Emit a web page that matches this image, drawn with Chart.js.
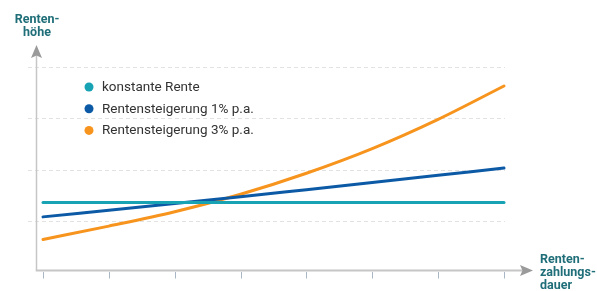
<!DOCTYPE html>
<html>
<head>
<meta charset="utf-8">
<script src="https://cdn.jsdelivr.net/npm/chart.js@4"></script>
<style>
  html, body { margin: 0; padding: 0; background: #fff; }
  #wrap { width: 597px; height: 291px; }
</style>
</head>
<body>
<div id="wrap"><canvas id="rentenChart" width="597" height="291"></canvas></div>
<script>
// years of payout (unlabelled ticks on the x axis)
const periods = ["", "", "", "", "", "", "", ""];
const konstant = [1.36, 1.36, 1.36, 1.36, 1.36, 1.36, 1.36, 1.36];
const steigung1 = [1.08, 1.21, 1.34, 1.47, 1.61, 1.75, 1.89, 2.03];
const steigung3 = [0.64, 0.90, 1.18, 1.52, 1.93, 2.41, 2.98, 3.63];
const gridValues = [1, 2, 3, 4];

const yTitle = ["Renten-", "höhe"];
const xTitle = ["Renten-", "zahlungs-", "dauer"];

function arrowHead(ctx, x, y, dir) {
  // dir: "up" or "right"
  ctx.save();
  ctx.translate(x, y);
  if (dir === "right") ctx.rotate(Math.PI / 2);
  ctx.beginPath();
  ctx.moveTo(0, 0);
  ctx.lineTo(5.5, 13);
  ctx.lineTo(0, 10.5);
  ctx.lineTo(-5.5, 13);
  ctx.closePath();
  ctx.fillStyle = "#9a9a9a";
  ctx.fill();
  ctx.restore();
}

const decor = {
  id: "decor",
  beforeDatasetsDraw(chart) {
    const ctx = chart.ctx;
    const xs = chart.scales.x, ys = chart.scales.y;
    const area = chart.chartArea;
    ctx.save();
    // dashed grid
    ctx.strokeStyle = "#e2e2e2";
    ctx.lineWidth = 1;
    ctx.setLineDash([4, 3]);
    gridValues.forEach(v => {
      const y = Math.round(ys.getPixelForValue(v)) + 0.5;
      ctx.beginPath();
      ctx.moveTo(28, y);
      ctx.lineTo(area.right + 1, y);
      ctx.stroke();
    });
    ctx.setLineDash([]);

    // axes
    const ax = 36.5, ay = area.bottom + 0.5;
    ctx.strokeStyle = "#c6c6c6";
    ctx.lineWidth = 1.5;
    ctx.beginPath();
    ctx.moveTo(ax, 52);
    ctx.lineTo(ax, ay);
    ctx.stroke();
    ctx.lineWidth = 2;
    ctx.beginPath();
    ctx.moveTo(ax - 0.75, ay);
    ctx.lineTo(524, ay);
    ctx.stroke();
    arrowHead(ctx, ax, 45, "up");
    arrowHead(ctx, 533, ay, "right");

    // tick marks
    ctx.strokeStyle = "#a9b6c6";
    ctx.lineWidth = 1;
    periods.forEach((p, i) => {
      const x = Math.round(xs.getPixelForValue(i)) + 0.5;
      ctx.beginPath();
      ctx.moveTo(x, ay + 1.5);
      ctx.lineTo(x, ay + 8);
      ctx.stroke();
    });

    // axis titles
    ctx.fillStyle = "#1f6e78";
    ctx.font = "bold 12.5px Roboto";
    ctx.textAlign = "center";
    ctx.textBaseline = "alphabetic";
    yTitle.forEach((t, i) => ctx.fillText(t, 37, 23 + i * 13));
    ctx.textAlign = "left";
    xTitle.forEach((t, i) => ctx.fillText(t, 540, 263 + i * 13));

    // legend
    ctx.font = "13.5px Roboto";
    ctx.textBaseline = "middle";
    chart.data.datasets.forEach((ds, i) => {
      const y = 87 + i * 21.7;
      ctx.beginPath();
      ctx.arc(89, y, 4.5, 0, Math.PI * 2);
      ctx.fillStyle = ds.borderColor;
      ctx.fill();
      ctx.fillStyle = "#333";
      ctx.fillText(ds.label, 102, y + 0.5);
    });
    ctx.restore();
  }
};

const ctx = document.getElementById("rentenChart").getContext("2d");
new Chart(ctx, {
  type: "line",
  data: {
    labels: periods,
    datasets: [
      { label: "konstante Rente", data: konstant, borderColor: "#18a3b5" },
      { label: "Rentensteigerung 1% p.a.", data: steigung1, borderColor: "#0c5aa6" },
      { label: "Rentensteigerung 3% p.a.", data: steigung3, borderColor: "#f7941d" }
    ]
  },
  options: {
    responsive: false,
    animation: false,
    layout: { padding: { left: 43, top: 67, right: 93, bottom: 21 } },
    elements: {
      point: { radius: 0 },
      line: { borderWidth: 3, cubicInterpolationMode: "monotone", borderCapStyle: "round", fill: false }
    },
    datasets: { line: { clip: false } },
    plugins: { legend: { display: false }, tooltip: { enabled: false } },
    scales: {
      x: { display: false, offset: false },
      y: { display: false, min: 0.045, max: 4 }
    }
  },
  plugins: [decor]
});
</script>
</body>
</html>
